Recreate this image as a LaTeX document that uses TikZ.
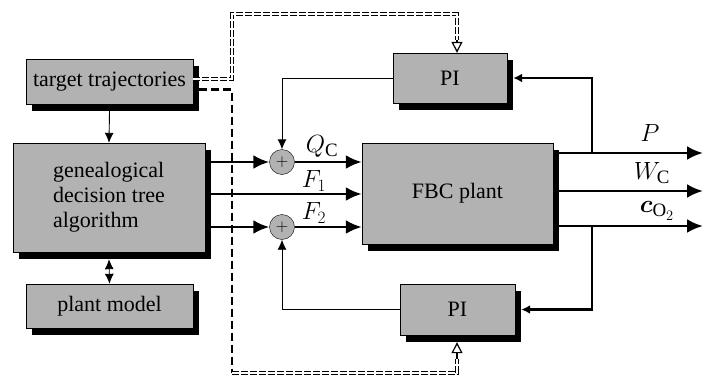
\documentclass[tikz,border=0pt]{standalone}
\usepackage{amsmath}
\usepackage{fontspec}
\setmainfont{Liberation Serif}
\usetikzlibrary{arrows.meta}

\begin{document}
\begin{tikzpicture}[x=1pt, y=-1pt, font=\fontsize{22}{25}\selectfont,
  blk/.style 2 args={draw, fill=gray!60, minimum width=#1, minimum height=#2, inner sep=0pt,
    preaction={fill=black, transform canvas={xshift=6pt, yshift=-7pt}}},
  sum/.style={circle, draw, fill=gray!60, minimum size=25pt, inner sep=0pt, font=\fontsize{16}{16}\selectfont},
  sig/.style={line width=2.8pt, -{Latex[length=16pt,width=14pt]}},
  fb/.style={line width=2.2pt, -{Latex[length=9pt,width=9pt]}},
  thn/.style={line width=0.9pt, -{Latex[length=10pt,width=9pt]}},
  ddash/.style={double, line width=1.1pt, double distance=1.8pt, dash pattern=on 7pt off 2pt},
  bdash/.style={line width=2.4pt, dash pattern=on 8pt off 4pt},
  dtip/.style={line width=1.2pt, -{Triangle[open,length=11pt,width=11pt]}},
  lbl/.style={font=\fontsize{27}{27}\selectfont}]
  \useasboundingbox (0,0) rectangle (704,375);

  % blocks
  \node[blk={167pt}{45pt}] (tt) at (109.5,81.5) {target trajectories};
  \node[blk={192pt}{109pt}, align=left] (gdt) at (109,197.5) {genealogical\\decision tree\\algorithm};
  \node[blk={167pt}{44pt}] (pm) at (109.5,306) {plant model};
  \node[blk={114pt}{50pt}] (piT) at (450,78) {PI};
  \node[blk={191pt}{101pt}] (fbc) at (457.5,193.5) {FBC plant};
  \node[blk={115pt}{51pt}] (piB) at (457.5,309.5) {PI};
  \node[sum] (sQ) at (282,162) {$+$};
  \node[sum] (sF) at (282,227) {$+$};

  \coordinate (f1) at (0,194);
  \coordinate (jP) at (592,153);
  \coordinate (jC) at (592,226);
  \coordinate (oP) at (703,153);
  \coordinate (oW) at (703,191);
  \coordinate (oC) at (703,226);
  \coordinate (dTop) at (232,14);
  \coordinate (dTr) at (457,14);
  \coordinate (dBot) at (232,373);
  \coordinate (dBr) at (457,373);

  % left column
  \draw[thn] ([yshift=-7pt]tt.south) -- (gdt.north);
  \draw[thn, {Latex[length=10pt,width=9pt]}-{Latex[length=10pt,width=9pt]}] ([yshift=-7pt]gdt.south) -- (pm.north);

  % inputs
  \draw[sig] (gdt.east |- sQ) -- (sQ.west);
  \draw[sig] (sQ.east) -- (sQ -| fbc.west);
  \draw[sig] (gdt.east |- f1) -- (fbc.west |- f1);
  \draw[sig] (gdt.east |- sF) -- (sF.west);
  \draw[sig] (sF.east) -- (sF -| fbc.west);
  \node[lbl] at (322,146) {$Q_{\mathrm{C}}$};
  \node[lbl] at (314,181) {$F_1$};
  \node[lbl] at (314,213) {$F_2$};

  % outputs
  \draw[sig] (fbc.east |- oP) -- (oP);
  \draw[sig] (fbc.east |- oW) -- (oW);
  \draw[sig] (fbc.east |- oC) -- (oC);
  \node[lbl] at (650,133) {$P$};
  \node[lbl] at (652,173) {$W_{\mathrm{C}}$};
  \node[lbl] at (657,211) {$\boldsymbol{c}_{\mathrm{O}_2}$};

  % feedback loops
  \draw[fb] (jP) |- ([xshift=6pt]piT.east);
  \draw[thn] (piT.west) -| (sQ.north);
  \draw[fb] (jC) |- ([xshift=6pt]piB.east);
  \draw[thn] (piB.west) -| (sF.south);

  % set points
  \draw[ddash] ([yshift=2.5pt]tt.east) -| (dTop) -- (dTr) -- ++(0,26) coordinate (dTe);
  \draw[dtip] (dTe) -- (dTr |- piT.north);
  \draw[bdash] ([xshift=6pt,yshift=-8pt]tt.east) -| (dBot);
  \draw[ddash] (dBot) -- (dBr) -- ++(0,-14) coordinate (dBe);
  \draw[dtip] (dBe) -- ([yshift=-7pt]piB.south -| dBr);
\end{tikzpicture}
\end{document}
